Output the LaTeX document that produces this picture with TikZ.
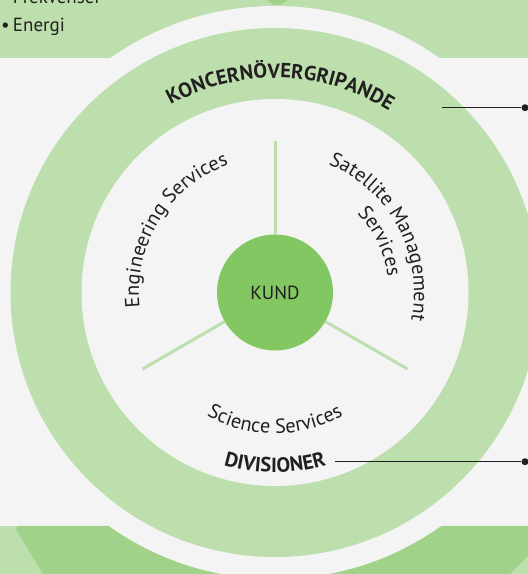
\documentclass[tikz,border=0pt]{standalone}
\usepackage{fontspec}
\setmainfont{PT Sans}
\usetikzlibrary{decorations.text}
\definecolor{bg}{HTML}{F4F4F4}
\definecolor{lg}{HTML}{BCDFAD}
\definecolor{dg}{HTML}{A0D289}
\definecolor{kundc}{HTML}{82C762}
\definecolor{ink}{HTML}{231F20}
\newcommand{\arcreg}{\fontsize{20.3}{20}\selectfont\color{ink}}
\newcommand{\arcbf}{\fontsize{20.5}{20}\selectfont\bfseries\color{ink}}
\begin{document}
\begin{tikzpicture}[x=1pt,y=1pt,
  arcdeco/.style={decorate, decoration={text along path, text align=center}},
  spoke/.style={draw=lg, line width=3pt},
  leader/.style={draw=ink, line width=1.3pt},
  dotnode/.style={circle, fill=ink, inner sep=0pt, minimum size=7pt},
  bullettext/.style={anchor=base west, font=\fontsize{19}{19}\selectfont, text=ink, inner sep=0pt}]
\useasboundingbox (0,0) rectangle (528,574);
\clip (0,0) rectangle (528,574);
\coordinate (C) at (275,281.5);
% background and bands
\fill[bg] (0,0) rectangle (528,574);
\fill[lg] (0,516) rectangle (528,574);
\fill[lg] (0,0) rectangle (528,48);
\fill[dg] (43,0) [rounded corners=5pt]-- (14,48) [sharp corners]-- (556,48) -- (510,0) -- cycle;
\fill[dg] (277,581.5) circle[radius=12.5];
% bullet texts
\node[bullettext] (frek) at (1,570) {•\,Frekvenser};
\node[bullettext] (energi) at (1,542) {•\,Energi};
% rings
\fill[bg] (C) circle[radius=286.5];
\fill[lg] (C) circle[radius=264.5];
\fill[bg] (C) circle[radius=193.5];
% center
\node[circle, fill=kundc, minimum size=116pt, inner sep=0pt,
      font=\fontsize{19}{19}\selectfont, text=ink] (kund) at (C) {KUND};
\coordinate (s1) at ([shift={(90:151)}]C);
\coordinate (s2) at ([shift={(210:153)}]C);
\coordinate (s3) at ([shift={(330:153)}]C);
\draw[spoke] (s1) -- (kund);
\draw[spoke] (s2) -- (kund);
\draw[spoke] (s3) -- (kund);
% arc texts
\path[shift={(C)}, arcdeco, decoration={text={|\arcbf|KONCERNÖVERGRIPANDE}}]
  (148.5:214.5) arc[start angle=148.5, end angle=28.5, radius=214.5];
\path[shift={(C)}, arcdeco, decoration={text={|\arcreg|Engineering Services}}]
  (208:136) arc[start angle=208, end angle=88, radius=136];
\path[shift={(C)}, arcdeco, decoration={text={|\arcreg|Satellite Management}}]
  (88:139) arc[start angle=88, end angle=-32, radius=139];
\path[shift={(C)}, arcdeco, decoration={text={|\arcreg|Services}}]
  (86:114) arc[start angle=86, end angle=-34, radius=114];
\path[shift={(C)}, arcdeco, decoration={text={|\arcreg|Science Services}}]
  (210:141) arc[start angle=210, end angle=330, radius=141];
\path[shift={(C)}, arcdeco, decoration={text={|\arcbf|DIVISIONER}}]
  (230:180) arc[start angle=230, end angle=310, radius=180];
% leaders
\coordinate (k1) at (442,466.3);
\node[dotnode] (d1) at (525,466.3) {};
\draw[leader] (k1) -- (d1);
\coordinate (k2) at (335,112.3);
\node[dotnode] (d2) at (525,112.3) {};
\draw[leader] (k2) -- (d2);
\end{tikzpicture}
\end{document}
